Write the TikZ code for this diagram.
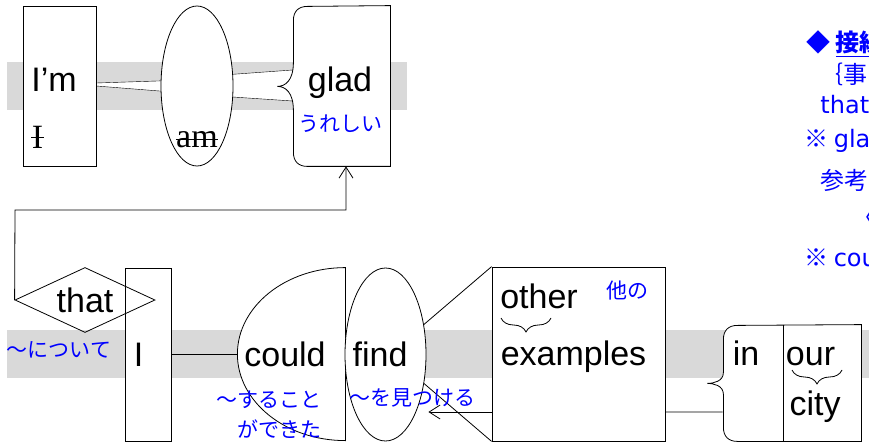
\documentclass[tikz,border=0pt]{standalone}
\usepackage{fontspec}
\setmainfont{Liberation Sans}
\newfontfamily\serf{Liberation Serif}
\newfontfamily\dv{DejaVu Sans}
\newfontfamily\jp{Noto Sans CJK JP}
\usetikzlibrary{arrows.meta,shapes.geometric,decorations.pathreplacing,backgrounds}
\definecolor{band}{RGB}{217,217,217}
\definecolor{jpblue}{RGB}{0,0,255}

\begin{document}
\begin{tikzpicture}[x=1pt,y=1pt,line width=0.8pt,>={Straight Barb[length=11pt,width=14pt]}]
        \tikzstyle{word}=[inner sep=0pt,anchor=base,font=\fontsize{34}{38}\selectfont]
        \tikzstyle{gone}=[inner sep=0pt,font=\serf\fontsize{34}{38}\selectfont]
        \tikzstyle{gloss}=[inner sep=0pt,text=jpblue,font=\jp\fontsize{21}{30}\selectfont]
        \tikzstyle{note}=[inner sep=0pt,anchor=base west,text=jpblue,font=\jp\fontsize{24}{30}\selectfont]
        \tikzstyle{box}=[draw,fill=white,inner sep=0pt]
        \tikzstyle{frame}=[inner sep=0pt]
        \tikzstyle{ubrace}=[decorate,decoration={brace,mirror,amplitude=14pt}]

        \useasboundingbox (0,0) rectangle (869,445);

        % I'm glad
        \node[box,minimum width=73pt,minimum height=160pt]          (Im)   at (59.5,359)  { };
        \node[box,ellipse,minimum width=72pt,minimum height=160pt]  (Am)   at (197,359)   { };
        \node[frame,minimum width=97pt,minimum height=160pt]        (Glad) at (341.5,359) { };
        \draw[fill=white] (Glad.north east) -- (Glad.south east) -- ++(-83,0)
              .. controls +(-9,0) and +(0,-9) .. ++(-14,14) -- ++(0,42)
              .. controls +(0,18) and +(8,0) .. ++(-16,24)
              .. controls +(8,0) and +(0,-18) .. ++(16,24) -- ++(0,42)
              .. controls +(0,9) and +(-9,0) .. ++(14,14) -- cycle;

        \node[word]  (ImW)   at (54,353)      {I’m};
        \node[gone]  (ImX)   at (37.5,307.5)  {I};
        \node[gone]  (AmX)   at (197,305.5)   {am};
        \node[word]  (GladW) at (340,353)     {glad};
        \node[gloss] (GladJ) at (340,321)     {うれしい};
        \draw[line width=1.2pt] (ImX.west) -- (ImX.east) (AmX.west) -- (AmX.east);

        % that I could find other examples in our city
        \node[box,minimum width=46pt,minimum height=173pt]   (Ib)    at (148,90.5)  { };
        \node[draw,diamond,aspect=2.15,inner sep=0pt,minimum width=140pt,minimum height=65pt,
              font=\fontsize{34}{38}\selectfont]             (That)  at (85,145)    {that};
        \node[frame,minimum width=108pt,minimum height=173pt] (Could) at (291,90.5)  { };
        \draw (Ib.east) -- (Could.west);
        \draw[fill=white] (Could.north east) arc[start angle=90,end angle=270,x radius=108pt,y radius=86.5pt] -- cycle;
        \node[box,ellipse,minimum width=81pt,minimum height=173pt] (Find) at (385.5,90.5) { };
        \node[box,minimum width=173pt,minimum height=174pt]        (Ex)   at (578.5,91)   { };
        \node[frame,minimum width=138pt,minimum height=116pt]      (In)   at (792,62)     { };
        \draw[fill=white] (In.north east) -- (In.south east) -- ++(-124,0)
              .. controls +(-9,0) and +(0,-9) .. ++(-14,14) -- ++(0,33)
              .. controls +(0,9) and +(6,0) .. ++(-16,11)
              .. controls +(6,0) and +(0,-9) .. ++(16,11) -- ++(0,33)
              .. controls +(0,9) and +(-9,0) .. ++(14,14) -- cycle;
        \draw ([xshift=-9pt]In.north) -- ([xshift=-9pt]In.south);

        \draw (Find.38) -- (Ex.north west)
              (Find.-37) -- (Ex.south west)
              ([yshift=-58pt]Ex.east) -- ([yshift=-58pt]Ex.east -| In.west);
        \draw[->,shorten >=2pt] ([yshift=-58pt]Ex.west) -- ([yshift=-58pt]Ex.west -| Find.east);
        \coordinate (Up) at (15,235);
        \draw[->] (That.west) -- (Up) -| ([xshift=4.5pt]Glad.south);

        \node[gloss] (ThatJ)  at (59,95)     {〜について};
        \node[word]  (IW)     at (138.5,79)  {I};
        \node[word]  (CouldW) at (285,79)    {could};
        \node[gloss,align=right,anchor=east] (CouldJ) at (322,30) {〜すること\\ができた};
        \node[word]  (FindW)  at (380,79)    {find};
        \node[gloss] (FindJ)  at (412,47)    {〜を見つける};
        \node[word]  (OtherW) at (539,137)   {other};
        \node[gloss] (OtherJ) at (627.5,154) {他の};
        \node[word]  (ExW)    at (573.5,80)  {examples};
        \node[word]  (InW)    at (746,80)    {in};
        \node[word]  (OurW)   at (810.5,80)  {our};
        \node[word]  (CityW)  at (815,30)    {city};
        \draw[ubrace] (501,127) -- (551,127);
        \draw[ubrace] (792,75) -- (842,75);

        % notes, cut at the edge
        \node[note] (N1) at (806,393) {◆ \underline{\textbf{接続}}};
        \node[note] (N2) at (819,361) {｛事};
        \node[note] (N3) at (820,331) {\dv that};
        \node[note] (N4) at (804,297) {※ {\dv gla}};
        \node[note] (N5) at (820,255) {参考};
        \node[note] (N6) at (852,219) {〈};
        \node[note] (N7) at (804,179) {※ {\dv cou}};

        \begin{scope}[on background layer]
        \fill[band] (7,335) rectangle (407,383);
        \fill[band] (7,67) rectangle (869,115);
        \draw[fill=white] (Am.172) -- ([yshift=3pt]Im.east) -- (Im.east) -- (Am.188);
        \draw[fill=white] (Am.18) -- ([yshift=16pt]Glad.west) -- ([yshift=-15pt]Glad.west) -- (Am.-17);
        \end{scope}
\end{tikzpicture}
\end{document}
